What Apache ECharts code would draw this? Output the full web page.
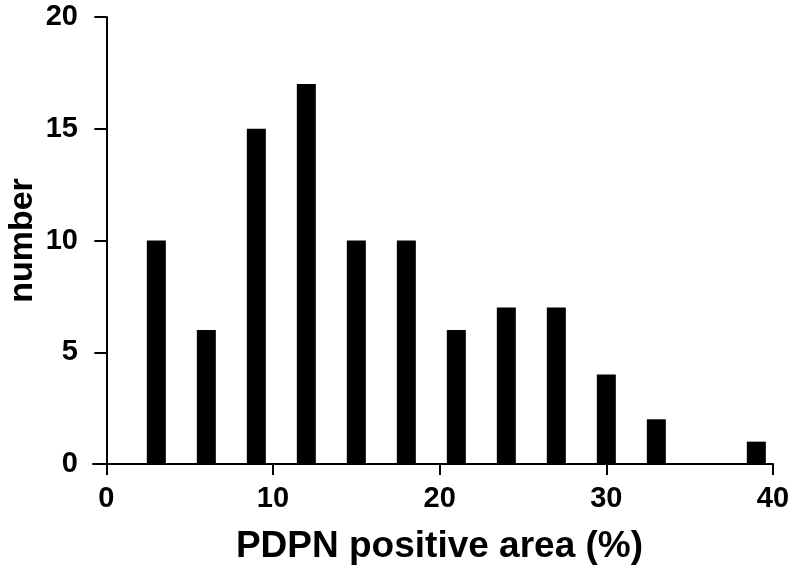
<!DOCTYPE html>
<html>
<head>
<meta charset="utf-8">
<script src="https://cdn.jsdelivr.net/npm/echarts@6/dist/echarts.min.js"></script>
<style>html,body{margin:0;padding:0;background:#fff}#c{width:794px;height:574px}</style>
</head>
<body>
<div id="c"></div>
<script>
const binCenters = [3, 6, 9, 12, 15, 18, 21, 24, 27, 30, 33, 39];
const counts = [10, 6, 15, 17, 10, 10, 6, 7, 7, 4, 2, 1];
const xTicks = [0, 10, 20, 30, 40];
const yTicks = [0, 5, 10, 15, 20];
const xTitle = 'PDPN positive area (%)';
const yTitle = 'number';

const font = 'Liberation Sans, Arial, sans-serif';
const chart = echarts.init(document.getElementById('c'), null, {renderer: 'canvas'});
chart.setOption({
  animation: false,
  backgroundColor: '#fff',
  grid: {left: 93, right: 21, top: 17, bottom: 110, containLabel: false, outerBoundsMode: 'none'},
  xAxis: {
    type: 'value', min: -0.8, max: 40,
    splitLine: {show: false},
    axisLine: {show: true, onZero: true, lineStyle: {color: '#000', width: 2}},
    axisTick: {show: true, length: 11, customValues: xTicks, lineStyle: {color: '#000', width: 2}},
    axisLabel: {customValues: xTicks, margin: 20, color: '#000', fontSize: 29, fontWeight: 'bold', fontFamily: font},
    name: xTitle, nameLocation: 'middle', nameGap: 64,
    nameTextStyle: {color: '#000', fontSize: 37, fontWeight: 'bold', fontFamily: font, padding: [0, 0, 0, 13]}
  },
  yAxis: {
    type: 'value', min: 0, max: 20, interval: 5,
    splitLine: {show: false},
    axisLine: {show: true, onZero: true, lineStyle: {color: '#000', width: 2}},
    axisTick: {show: true, length: 12, lineStyle: {color: '#000', width: 2}},
    axisLabel: {margin: 15, color: '#000', fontSize: 29, fontWeight: 'bold', fontFamily: font},
    name: yTitle, nameLocation: 'middle', nameGap: 53, nameRotate: 90, nameMoveOverlap: false,
    nameTextStyle: {color: '#000', fontSize: 34, fontWeight: 'bold', fontFamily: font}
  },
  series: [{
    type: 'bar',
    data: binCenters.map((x, i) => [x, counts[i]]),
    barWidth: 19,
    itemStyle: {color: '#000'}
  }]
});
</script>
</body>
</html>
